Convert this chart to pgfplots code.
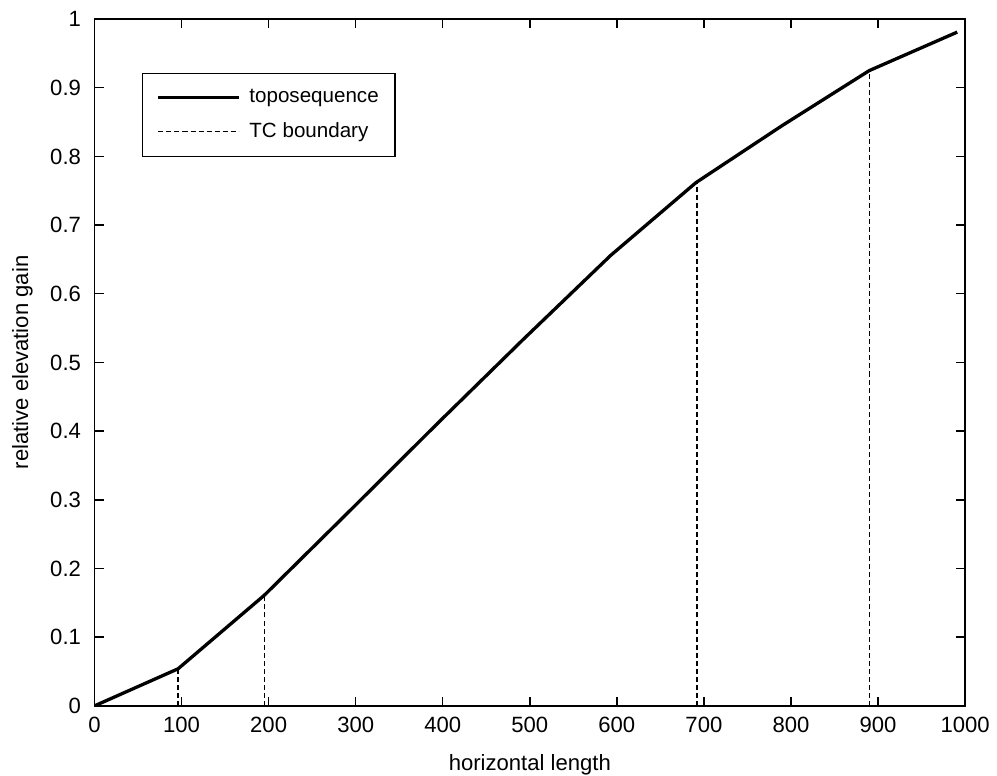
\documentclass[border=0pt]{standalone}
\usepackage{pgfplots}
\pgfplotsset{compat=1.18}
\usepackage{fontspec}
\setmainfont{Liberation Sans}
\begin{document}
\fontsize{22}{26}\selectfont
\begin{tikzpicture}
\begin{axis}[
  scale only axis,
  width=867pt, height=684pt,
  xmin=0, xmax=1000, ymin=0, ymax=1,
  xtick={0,100,...,1000},
  ytick={0,0.1,0.2,0.3,0.4,0.5,0.6,0.7,0.8,0.9,1},
  yticklabels={0,0.1,0.2,0.3,0.4,0.5,0.6,0.7,0.8,0.9,1},
  xticklabels={0,100,200,300,400,500,600,700,800,900,1000},
  tick align=inside,
  major tick length=9pt,
  tick style={line width=1.4pt, black},
  axis line style={line width=1.4pt},
  every axis/.append style={font=\fontsize{22}{26}\selectfont},
  ticklabel style={font=\fontsize{22}{26}\selectfont},
  xlabel={horizontal length},
  ylabel={relative elevation gain},
  label style={font=\fontsize{22}{26}\selectfont},
  xlabel style={inner ysep=0pt, yshift=-14pt},
  ylabel style={inner ysep=12pt, yshift=-2pt},
  xticklabel style={yshift=-4pt},
  yticklabel style={xshift=-6pt},
  unbounded coords=jump,
  legend style={at={(axis cs:54.5,0.922)}, anchor=north west, draw=black, line width=1.4pt,
    font=\fontsize{20.5}{24}\selectfont, inner xsep=14pt, inner ysep=14pt,
    row sep=12pt, cells={anchor=west}},
  legend image code/.code={\draw[#1] (0pt,0pt) -- (80pt,0pt);},
  extra description/.code={\path (rel axis cs:0,1) ++(0,19pt);},
]
\addplot[black, line width=3.3pt, line join=round] coordinates {
 (0,0) (96,0.054) (195,0.161) (294,0.285) (393,0.41) (492,0.533) (593,0.656)
 (691,0.762) (790,0.845) (890,0.925) (991,0.981)
};
\addlegendentry{\hspace{7pt}toposequence}
\addplot[black, line width=1.4pt, dash pattern=on 5pt off 3pt] coordinates {
 (96,0) (96,0.054) (nan,nan)
 (195,0) (195,0.161) (nan,nan)
 (692,0) (692,0.762) (nan,nan)
 (890,0) (890,0.925)
};
\addlegendentry{\hspace{7pt}TC boundary}
\end{axis}
\end{tikzpicture}
\end{document}
